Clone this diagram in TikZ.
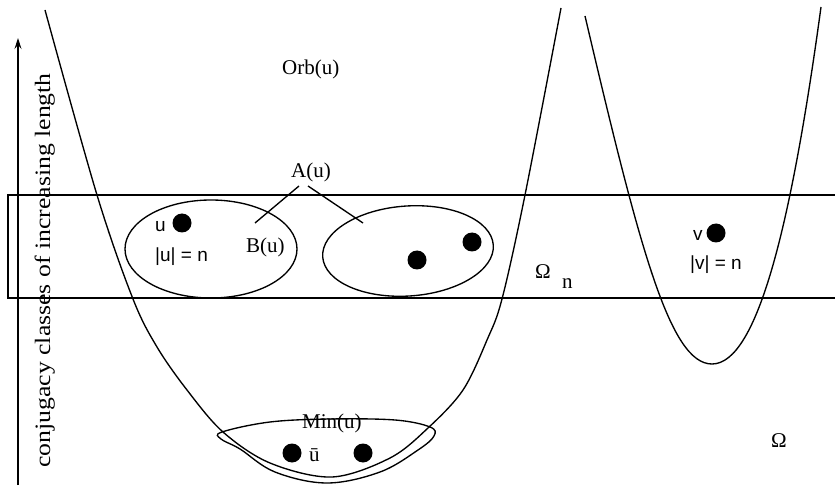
\documentclass[tikz,border=0pt]{standalone}
\usepackage{fontspec}
\setmainfont{Liberation Serif}
\newfontfamily\sansf{Liberation Sans}
\usetikzlibrary{arrows.meta,shapes.geometric}
\begin{document}
\begin{tikzpicture}[x=1pt,y=-1pt,
  curve/.style={line width=1.35pt},
  dot/.style={circle,fill=black,inner sep=0pt,minimum size=19pt},
  lbl/.style={anchor=base west,inner sep=0pt,font=\fontsize{21}{25}\selectfont},
  slbl/.style={anchor=base west,inner sep=0pt,font=\sansf\fontsize{19}{23}\selectfont}]
\useasboundingbox (0,0) rectangle (835,486);
% axis arrow
\coordinate (ab) at (18,485);
\coordinate (at) at (18,38);
\draw[line width=1.2pt,-{Stealth[length=11pt,width=7pt,inset=4pt]}] (ab) -- (at);
\node[rotate=90,anchor=base west,inner sep=0pt,font=\fontsize{22}{26}\selectfont] (axl) at (50,468) {\scalebox{1.17}[1]{conjugacy classes of increasing length}};
% band Omega_n
\coordinate (r1) at (835,195);
\coordinate (r2) at (8,195);
\coordinate (r3) at (8,298);
\coordinate (r4) at (835,298);
\draw[curve] (r1) -- (r2) -- (r3) -- (r4);
% big orbit curve
\draw[curve] plot[smooth,tension=0.55] coordinates {(45,10) (97,195) (133,299) (157,347) (187,390) (223,432) (270,463) (332,477) (390,458) (428,428) (463,390) (487,340) (502,299) (525,195) (561,8)};
% small orbit curve
\coordinate (s1) at (585,16);
\coordinate (s2) at (712,364);
\coordinate (s3) at (821,7);
\draw[curve] (s1) .. controls (640,250) and (670,364) .. (s2) .. controls (758,364) and (792,220) .. (s3);
% ellipses
\node[draw,curve,ellipse,minimum width=172pt,minimum height=98pt,inner sep=0pt] (Bu) at (211,249) {};
\node[draw,curve,ellipse,minimum width=171pt,minimum height=90pt,inner sep=0pt,rotate=4] (E2) at (408,251) {};
% Min(u) region
\draw[curve] plot[smooth cycle,tension=0.6] coordinates {(222,432) (270,422) (330,419) (395,420) (430,427) (434,436) (418,450) (380,472) (327,483) (275,472) (240,449) (221,439)};
% dots
\node[dot] (du) at (182,223) {};
\node[dot] (d1) at (472,242) {};
\node[dot] (d2) at (417,260) {};
\node[dot] (dv) at (716,233) {};
\node[dot] (m1) at (292,453) {};
\node[dot] (m2) at (363,453) {};
% labels
\node[slbl] (lu) at (155,232) {u};
\node[slbl] (lun) at (155,262) {|u| = n};
\node[lbl] (lB) at (246,253) {B(u)};
\node[lbl] (lOrb) at (282,75) {Orb(u)};
\node[lbl] (lA) at (291,178) {A(u)};
\node[lbl] (lMin) at (302,428) {Min(u)};
\node[lbl] (lub) at (309,461) {ū};
\node[slbl] (lv) at (693,241) {v};
\node[slbl] (lvn) at (690,270) {|v| = n};
\node[lbl] (lOn) at (535,279) {Ω};
\node[lbl] (lOnn) at (562,288) {n};
\node[lbl] (lO) at (771,447) {Ω};
% A(u) pointers
\coordinate (a1s) at (299,186);
\coordinate (a1e) at (255,223);
\coordinate (a2s) at (308,186);
\coordinate (a2e) at (363,223);
\draw[curve] (a1s) -- (a1e);
\draw[curve] (a2s) -- (a2e);
\end{tikzpicture}
\end{document}
